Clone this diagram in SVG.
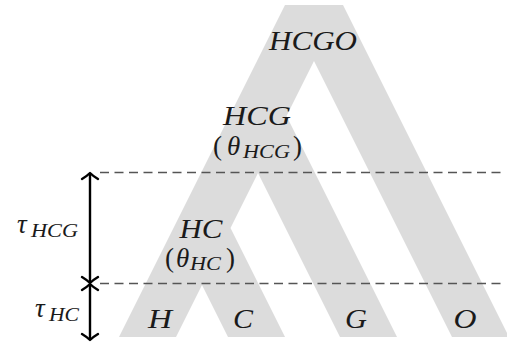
<svg xmlns="http://www.w3.org/2000/svg" width="507" height="345" viewBox="0 0 507 345">
  <style>
    .lbl { font-family: "Liberation Serif", "Times New Roman", serif; font-style: italic; font-size: 27px; fill: #1a1a1a; }
    .sub { font-family: "Liberation Serif", "Times New Roman", serif; font-style: italic; font-size: 18px; fill: #1a1a1a; }
    .par { font-family: "Liberation Serif", "Times New Roman", serif; font-style: normal; font-size: 27px; fill: #1a1a1a; }
    .dash { stroke: #555555; stroke-width: 1.6; stroke-dasharray: 9 5.5; fill: none; }
    .dim { stroke: #000000; stroke-width: 2.4; fill: none; stroke-linecap: round; stroke-linejoin: round; }
  </style>

  <!-- species tree drawn as one wide band -->
  <g id="tree">
    <polygon fill="#dcdcdc" points="285,5 343,5 509,337 452,337 314,61 286.5,116 397,337 340,337 258,173 230.5,228 285,337 228,337 202,285 176,337 119,337"/>
  </g>

  <!-- time slices -->
  <g id="connectors">
    <line class="dash" x1="100" y1="172.5" x2="505" y2="172.5"/>
    <line class="dash" x1="100" y1="283.5" x2="505" y2="283.5"/>
    <!-- tau_HCG span -->
    <line class="dim" x1="90" y1="174" x2="90" y2="282"/>
    <path class="dim" d="M82,179 Q87,176 90,173 Q93,176 98,179"/>
    <path class="dim" d="M82,277 Q87,280 90,283 Q93,280 98,277"/>
    <!-- tau_HC span -->
    <line class="dim" x1="90" y1="285" x2="90" y2="339"/>
    <path class="dim" d="M82,290 Q87,287 90,284 Q93,287 98,290"/>
    <path class="dim" d="M82,334 Q87,337 90,340 Q93,337 98,334"/>
  </g>

  <g id="node-HCGO">
    <text class="lbl" x="313" y="50" text-anchor="middle" textLength="88" lengthAdjust="spacingAndGlyphs">HCGO</text>
  </g>

  <g id="node-HCG">
    <text class="lbl" x="257" y="125" text-anchor="middle" textLength="68" lengthAdjust="spacingAndGlyphs">HCG</text>
    <text class="par" x="213" y="155">(</text>
    <text class="lbl" x="227" y="155">θ</text>
    <text class="sub" x="243" y="158" textLength="47" lengthAdjust="spacingAndGlyphs">HCG</text>
    <text class="par" x="293" y="155">)</text>
  </g>

  <g id="node-HC">
    <text class="lbl" x="201" y="238" text-anchor="middle" textLength="43" lengthAdjust="spacingAndGlyphs">HC</text>
    <text class="par" x="165" y="267">(</text>
    <text class="lbl" x="176" y="267">θ</text>
    <text class="sub" x="190" y="270" textLength="31" lengthAdjust="spacingAndGlyphs">HC</text>
    <text class="par" x="226" y="267">)</text>
  </g>

  <g id="leaf-H"><text class="lbl" x="160" y="328" text-anchor="middle" textLength="24" lengthAdjust="spacingAndGlyphs">H</text></g>
  <g id="leaf-C"><text class="lbl" x="243" y="328" text-anchor="middle" textLength="20" lengthAdjust="spacingAndGlyphs">C</text></g>
  <g id="leaf-G"><text class="lbl" x="356" y="328" text-anchor="middle" textLength="22" lengthAdjust="spacingAndGlyphs">G</text></g>
  <g id="leaf-O"><text class="lbl" x="465" y="328" text-anchor="middle" textLength="23" lengthAdjust="spacingAndGlyphs">O</text></g>

  <g id="label-tau-HCG">
    <text class="lbl" x="17" y="233">τ</text>
    <text class="sub" x="31" y="237" textLength="47" lengthAdjust="spacingAndGlyphs">HCG</text>
  </g>
  <g id="label-tau-HC">
    <text class="lbl" x="35" y="317">τ</text>
    <text class="sub" x="49" y="321" textLength="30" lengthAdjust="spacingAndGlyphs">HC</text>
  </g>
</svg>
